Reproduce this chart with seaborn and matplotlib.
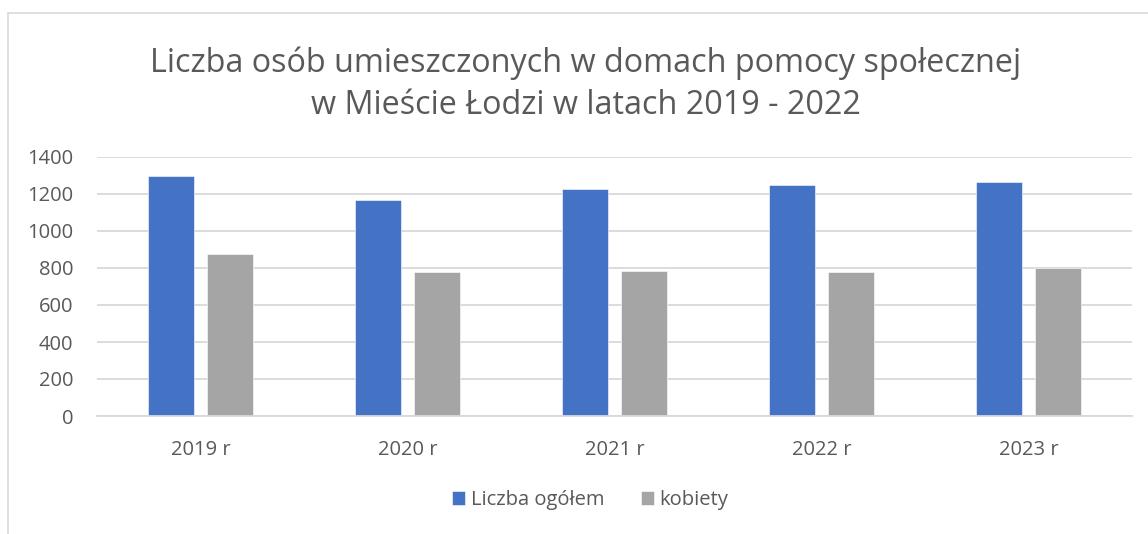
import matplotlib
matplotlib.use("Agg")
import matplotlib.pyplot as plt
import seaborn as sns
import pandas as pd
from matplotlib.patches import Rectangle

years = ["2019 r", "2020 r", "2021 r", "2022 r", "2023 r"]
ogolem = [1295, 1168, 1225, 1246, 1265]
kobiety = [878, 777, 782, 777, 798]
series_names = ["Liczba ogółem", "kobiety"]
yticks = [0, 200, 400, 600, 800, 1000, 1200, 1400]

df = pd.DataFrame({
    "rok": years * 2,
    "wartosc": ogolem + kobiety,
    "seria": [series_names[0]] * len(years) + [series_names[1]] * len(years),
})

sns.set_theme(style="white")
plt.rcParams["font.family"] = ["Open Sans", "DejaVu Sans"]

fig = plt.figure(figsize=(11.48, 5.34), dpi=100)
ax = fig.add_axes([97 / 1148, 1 - 416 / 534, (1132 - 97) / 1148, (416 - 157) / 534])

# outer chart frame
fig.patches.append(Rectangle((8 / 1148, -0.1), 1.2, 1 - 13 / 534 + 0.1,
                             transform=fig.transFigure, fill=False,
                             edgecolor="#D9D9D9", linewidth=1.2))

palette = {series_names[0]: "#4472C4", series_names[1]: "#A5A5A5"}
sns.barplot(data=df, x="rok", y="wartosc", hue="seria", palette=palette,
            width=0.57, gap=0.22, ax=ax, legend=True, edgecolor="white",
            linewidth=0.4, saturation=1)

ax.set_ylim(0, 1400)
ax.set_xlim(-0.5, len(years) - 0.5)
ax.set_yticks(yticks)
ax.set_yticklabels([str(v) for v in yticks])
ax.yaxis.grid(True, color="#D9D9D9", linewidth=1.3)
ax.set_axisbelow(True)
for s in ["top", "right", "left"]:
    ax.spines[s].set_visible(False)
ax.spines["bottom"].set_color("#D9D9D9")
ax.spines["bottom"].set_linewidth(1.3)
ax.set_xlabel("")
ax.set_ylabel("")
ax.tick_params(axis="both", length=0, labelsize=14.5, labelcolor="#595959")
ax.tick_params(axis="y", pad=17)
ax.tick_params(axis="x", pad=17)

handles, labels = ax.get_legend_handles_labels()
ax.get_legend().remove()
fig.legend(handles, labels, loc="center", bbox_to_anchor=(0.514, 1 - 500 / 534),
           ncol=2, frameon=False, fontsize=14.5, labelcolor="#595959",
           handlelength=0.65, handleheight=0.65, handletextpad=0.3, columnspacing=1.8)

fig.text(0.51, 1 - 63 / 534, "Liczba osób umieszczonych w domach pomocy społecznej",
         ha="center", va="center", fontsize=23.3, color="#595959")
fig.text(0.51, 1 - 106 / 534, "w Mieście Łodzi w latach 2019 - 2022",
         ha="center", va="center", fontsize=23.3, color="#595959")

fig.savefig("out.png", dpi=100)
